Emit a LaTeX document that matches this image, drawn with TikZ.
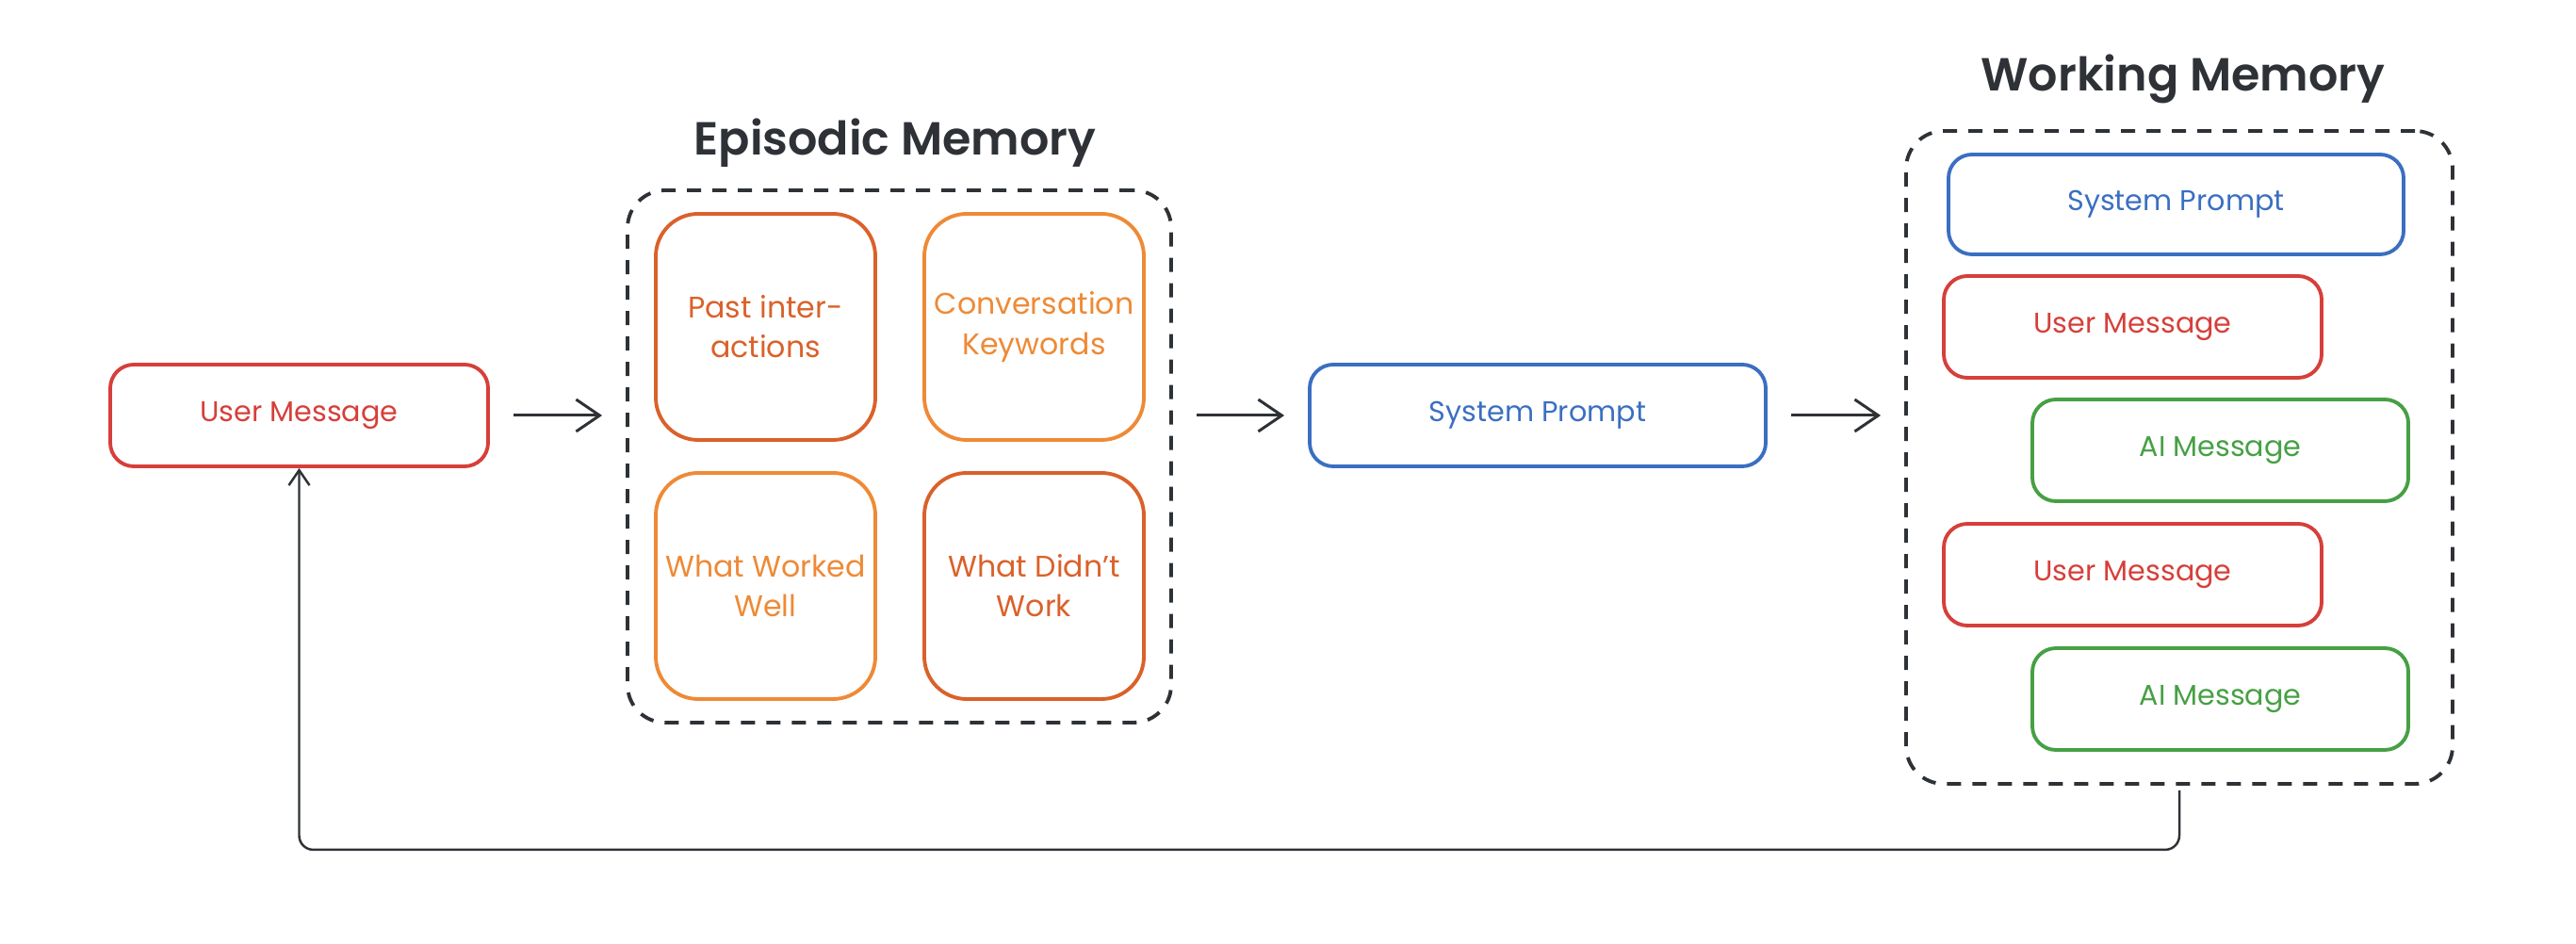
\documentclass[tikz,border=0pt]{standalone}
\usepackage{fontspec}
\setmainfont{Poppins}
\newfontfamily\titlefont{Poppins SemiBold}
\usetikzlibrary{positioning}
\usetikzlibrary{arrows.meta}
\definecolor{msgred}{HTML}{D63F3A}
\definecolor{aigreen}{HTML}{46A044}
\definecolor{sysblue}{HTML}{3A6FC1}
\definecolor{orgdark}{HTML}{DA612A}
\definecolor{orglight}{HTML}{EE8A36}
\definecolor{inkdark}{HTML}{2E3236}

\begin{document}
\begin{tikzpicture}[
  box/.style={draw, rounded corners=0.25cm, line width=1.1pt, minimum height=1.08cm, font=\fontsize{8.6}{11}\selectfont},
  memcard/.style={draw, rounded corners=0.45cm, line width=1.1pt, minimum width=2.33cm, minimum height=2.40cm, inner sep=1pt, align=center, font=\fontsize{9}{12}\selectfont},
  membox/.style={draw=inkdark, dash pattern=on 0.15cm off 0.12cm, rounded corners=0.4cm, line width=1.1pt},
  title/.style={text=inkdark, font=\titlefont\fontsize{14}{17}\selectfont},
  flow/.style={-{Straight Barb[length=2.5mm, width=3.4mm]}, line width=0.85pt, inkdark, shorten <=0.25cm, shorten >=0.25cm},
  back/.style={-{Straight Barb[length=1.6mm, width=2.2mm]}, line width=0.7pt, inkdark, rounded corners=0.15cm}
]
\useasboundingbox (0,0) rectangle (27.34,10.02);
\def\uw{4.01cm}
\def\aw{3.99cm}
\def\sw{4.84cm}

\node [box, draw=msgred, text=msgred, minimum width=\uw, name=um]      at (3.175,5.61) {User Message};

% episodic memory
\node [membox, minimum width=5.77cm, minimum height=5.65cm, name=em]  at (9.545,5.175) {};
\node [title, name=emt]                                               at (9.50,8.50) {Episodic Memory};
\node [memcard, draw=orgdark, text=orgdark, name=past]                at (8.125,6.55) {Past inter-\\actions};
\node [memcard, draw=orglight, text=orglight, name=keys]              at (10.975,6.55) {Conversation\\Keywords};
\node [memcard, draw=orglight, text=orglight, name=good]              at (8.125,3.80) {What Worked\\Well};
\node [memcard, draw=orgdark, text=orgdark, name=bad]                 at (10.975,3.80) {What Didn't\\Work};

\node [box, draw=sysblue, text=sysblue, minimum width=\sw, name=sp]   at (16.32,5.61) {System Prompt};

% working memory
\node [membox, minimum width=5.80cm, minimum height=6.93cm, name=wm]  at (23.13,5.165) {};
\node [title, name=wmt]                                               at (23.17,9.18) {Working Memory};
\node [box, draw=sysblue, text=sysblue, minimum width=4.83cm, minimum height=1.06cm, name=wsp] at (23.095,7.85) {System Prompt};
\node [box, draw=msgred, text=msgred, minimum width=\uw, name=wu1]     at (22.635,6.55) {User Message};
\node [box, draw=aigreen, text=aigreen, minimum width=\aw, name=wa1]  at (23.565,5.24) {AI Message};
\node [box, draw=msgred, text=msgred, minimum width=\uw, name=wu2]     at (22.635,3.92) {User Message};
\node [box, draw=aigreen, text=aigreen, minimum width=\aw, name=wa2]  at (23.565,2.60) {AI Message};

\draw [flow](um) to (um -| em.west);
\draw [flow](em.east |- sp.west) to (sp.west);
\draw [flow](sp.east) to (sp.east -| wm.west);
\draw [back, shorten <=0.05cm](wm.south) -- ++(0,-0.68) -| (um.south);
\end{tikzpicture}
\end{document}
